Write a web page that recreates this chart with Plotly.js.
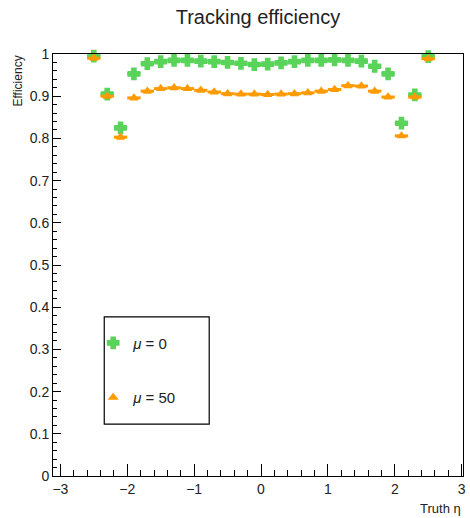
<!DOCTYPE html>
<html>
<head>
<meta charset="utf-8">
<script src="https://cdn.plot.ly/plotly-3.0.1.min.js"></script>
<style>html,body{margin:0;padding:0;background:#fff;}#chart{width:470px;height:518px;}</style>
</head>
<body>
<div id="chart"></div>
<script>
// Bin centres in truth eta (bin width 0.2)
const eta = [-2.5,-2.3,-2.1,-1.9,-1.7,-1.5,-1.3,-1.1,-0.9,-0.7,-0.5,-0.3,-0.1,
              0.1, 0.3, 0.5, 0.7, 0.9, 1.1, 1.3, 1.5, 1.7, 1.9, 2.1, 2.3, 2.5];
const halfWidth = [0.1,0.1,0.1,0.1,0.1,0.1,0.1,0.1,0.1,0.1,0.1,0.1,0.1,
                   0.1,0.1,0.1,0.1,0.1,0.1,0.1,0.1,0.1,0.1,0.1,0.1,0.1];
// Efficiency, mu = 0
const effMu0 = [0.995,0.905,0.825,0.953,0.977,0.982,0.985,0.985,0.983,0.982,0.980,0.978,0.975,
                0.976,0.979,0.982,0.985,0.985,0.986,0.985,0.983,0.971,0.953,0.836,0.903,0.994];
// Efficiency, mu = 50
const effMu50 = [0.990,0.900,0.803,0.896,0.912,0.918,0.920,0.918,0.914,0.910,0.906,0.905,0.905,
                 0.904,0.905,0.906,0.908,0.912,0.916,0.925,0.924,0.912,0.898,0.806,0.898,0.989];
const legendNames = ['<i>μ</i> = 0', '<i>μ</i> = 50'];
const xTicks = [-3,-2,-1,0,1,2,3];

const green = '#5ad35a';
const orange = '#ff9a00';

const traces = [
  {
    x: eta, y: effMu0, type: 'scatter', mode: 'markers', name: legendNames[0],
    legendgroup: 'a', cliponaxis: false,
    marker: {symbol: 'cross', size: 9, color: green, line: {color: green, width: 2}},
    error_x: {type: 'data', array: halfWidth, visible: true, width: 0, thickness: 3.5, color: green}
  },
  {
    x: eta, y: effMu50, type: 'scatter', mode: 'markers', name: legendNames[1],
    legendgroup: 'b', cliponaxis: false,
    marker: {symbol: 'triangle-up', size: 7, color: orange, line: {color: orange, width: 1.5}},
    error_x: {type: 'data', array: halfWidth, visible: true, width: 0, thickness: 3, color: orange}
  }
];

const fontFam = 'Liberation Sans, Arial, sans-serif';
const layout = {
  width: 470, height: 518,
  margin: {l: 53, r: 7, t: 54, b: 42},
  paper_bgcolor: '#fff', plot_bgcolor: '#fff',
  font: {family: fontFam, color: '#222', size: 14},
  title: {text: 'Tracking efficiency', font: {size: 20, family: fontFam, color: '#222'},
          x: 0.5, xref: 'paper', xanchor: 'center', y: 0.967, yref: 'container', yanchor: 'middle'},
  xaxis: {
    range: [-3.11, 3.02], showgrid: false, zeroline: false,
    showline: true, mirror: true, linecolor: '#000', linewidth: 1,
    ticks: 'inside', ticklen: 12, tickcolor: '#000', tickvals: xTicks,
    tickfont: {size: 14},
    minor: {dtick: 0.2, ticks: 'inside', ticklen: 6, tickcolor: '#000', showgrid: false}
  },
  yaxis: {
    range: [0, 1], showgrid: false, zeroline: false,
    showline: true, mirror: true, linecolor: '#000', linewidth: 1,
    ticks: 'inside', ticklen: 8, tickcolor: '#000', dtick: 0.1,
    tickfont: {size: 14},
    minor: {dtick: 0.02, ticks: 'inside', ticklen: 4, tickcolor: '#000', showgrid: false}
  },
  showlegend: true,
  legend: {
    x: 0.098, y: 0.354, xanchor: 'left', yanchor: 'top',
    bgcolor: 'rgba(0,0,0,0)', borderwidth: 0,
    font: {size: 15, family: fontFam, color: '#222'},
    tracegroupgap: 32
  },
  shapes: [
    {type: 'rect', xref: 'paper', yref: 'paper', x0: 0.125, x1: 0.381, y0: 0.123, y1: 0.377,
     line: {color: '#000', width: 1.2}, fillcolor: 'rgba(0,0,0,0)'}
  ],
  annotations: [
    {text: 'Efficiency', xref: 'paper', yref: 'paper', x: 0, y: 1, xshift: -36,
     xanchor: 'center', yanchor: 'top', textangle: -90, showarrow: false,
     font: {size: 12, family: fontFam, color: '#222'}},
    {text: 'Truth η', xref: 'paper', yref: 'paper', x: 1, y: 0, yshift: -23,
     xanchor: 'right', yanchor: 'top', showarrow: false,
     font: {size: 13, family: fontFam, color: '#222'}}
  ]
};

Plotly.newPlot('chart', traces, layout, {displayModeBar: false, staticPlot: true});
</script>
</body>
</html>
